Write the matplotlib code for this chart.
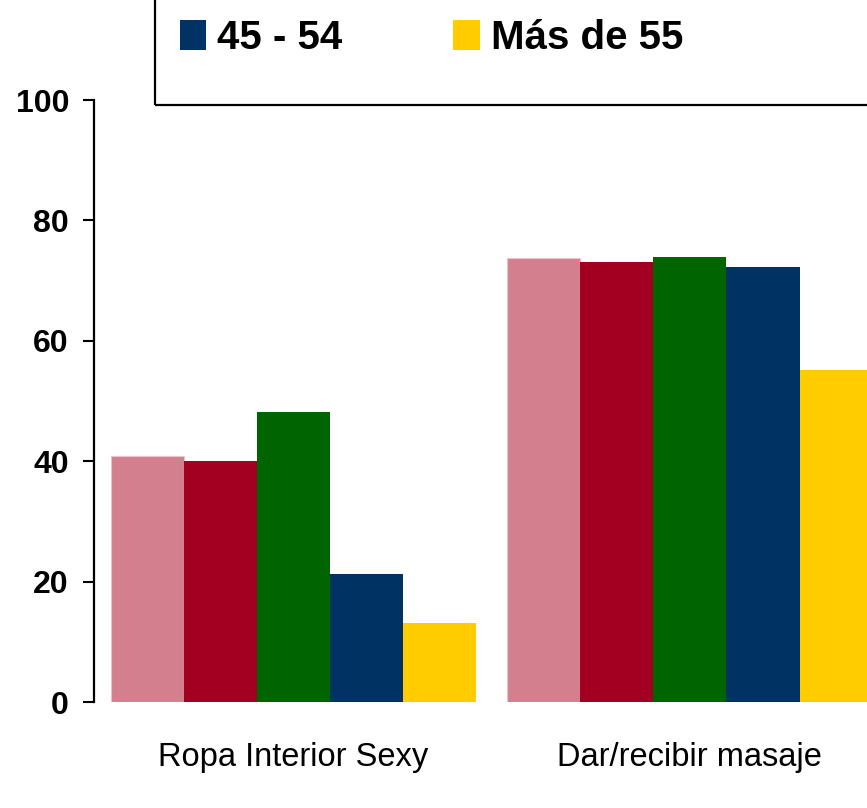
import matplotlib
matplotlib.use("Agg")
import matplotlib.pyplot as plt
from matplotlib.patches import Rectangle, Patch
import numpy as np

categories = ["Ropa Interior Sexy", "Dar/recibir masaje"]
series_labels = ["18 - 24", "25 - 34", "35 - 44", "45 - 54", "Más de 55"]
series_values = [
    [40.8, 73.8],
    [40.0, 73.1],
    [48.1, 74.0],
    [21.3, 72.2],
    [13.2, 55.1],
]
series_colors = ["#D47F8D", "#A30021", "#006400", "#003263", "#FFCC00"]
yticks = [0, 20, 40, 60, 80, 100]

W, H = 867, 808
fig = plt.figure(figsize=(W / 100, H / 100), dpi=100)
ax = fig.add_axes([94 / W, 106 / H, 794 / W, 602 / H])

x = np.arange(len(categories))
bw = 0.1845
n = len(series_values)
for i, (vals, col) in enumerate(zip(series_values, series_colors)):
    offs = (i - (n - 1) / 2) * bw
    ec = "#EBC3CA" if i == 0 else col
    ax.bar(x + offs, vals, width=bw, color=col, edgecolor=ec,
           linewidth=0.8 if i == 0 else 0, label=series_labels[i])

ax.set_xlim(-0.503, 1.5)
ax.set_ylim(0, 100)
ax.set_yticks(yticks)
ax.set_yticklabels([str(v) for v in yticks], family="Liberation Sans",
                   fontweight="bold", fontsize=23)
ax.set_xticks(x)
ax.set_xticklabels(categories, family="Liberation Sans", fontsize=23.5)
ax.tick_params(axis="x", length=0, pad=29)
ax.tick_params(axis="y", direction="out", length=8, width=1.5, pad=10)
for s in ["top", "right", "bottom"]:
    ax.spines[s].set_visible(False)
ax.spines["left"].set_linewidth(1.6)

# legend frame (partially outside the figure)
fig.add_artist(Rectangle((155 / W, 1 - 105 / H), 1.0, 1.0,
                         transform=fig.transFigure, fill=False,
                         edgecolor="black", linewidth=1.6, clip_on=False))

handles = [Patch(facecolor=series_colors[3], edgecolor="none"),
           Patch(facecolor=series_colors[4], edgecolor="none")]
fig.legend(handles, [series_labels[3], series_labels[4]], ncol=2,
           loc="center left", bbox_to_anchor=(180 / W, 1 - 38 / H),
           frameon=False, borderpad=0, borderaxespad=0,
           handlelength=0.65, handleheight=0.75, handletextpad=0.28,
           columnspacing=2.75,
           prop={"family": "Liberation Sans", "weight": "bold", "size": 29})

fig.savefig("out.png", dpi=100)
